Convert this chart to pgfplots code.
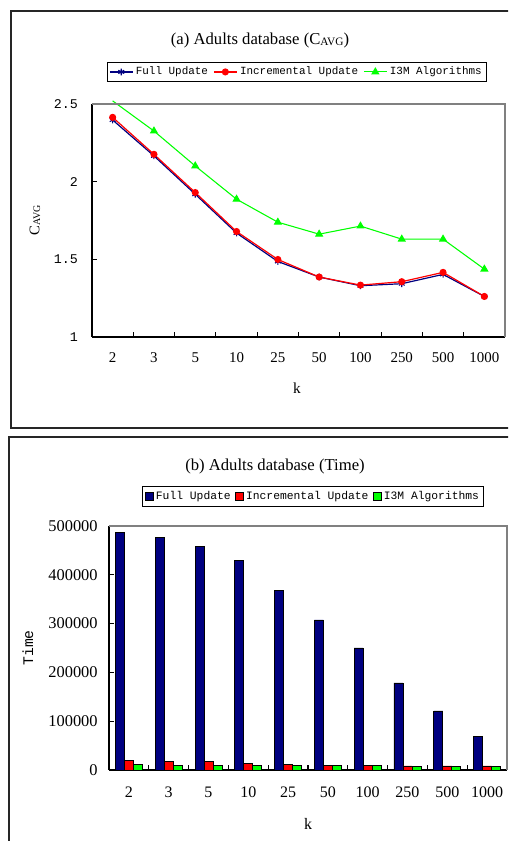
\documentclass[border=0pt]{standalone}
\usepackage{fontspec}
\setmainfont{Liberation Serif}
\setmonofont{Liberation Mono}
\usepackage{pgfplots}
\pgfplotsset{compat=1.18}
\definecolor{navyb}{RGB}{0,0,128}
\definecolor{redb}{RGB}{255,0,0}
\definecolor{greenb}{RGB}{0,255,0}
\definecolor{axgray}{RGB}{128,128,128}
\begin{document}
\begin{tikzpicture}
\useasboundingbox (0,0) rectangle (381pt,630.75pt);
\clip (0,0) rectangle (381pt,630.75pt);
% panel frames
\draw[line width=0.8pt, black!85] (8.25pt,622.5pt) rectangle (400pt,309.75pt);
\draw[line width=0.8pt, black!85] (6.75pt,303pt) rectangle (400pt,-10pt);
% titles and labels
\node[font=\fontsize{12.5}{14}\selectfont] at (195pt,600.5pt) {(a) Adults database (C\raisebox{-0.6pt}{\fontsize{8.5}{9}\selectfont AVG})};
\node[font=\fontsize{11}{13}\selectfont, rotate=90] at (26.25pt,465.75pt) {C\raisebox{-0.5pt}{\fontsize{7.5}{9}\selectfont AVG}};
\node[font=\fontsize{11.5}{13}\selectfont] at (222.75pt,339.75pt) {k};
\node[font=\fontsize{12.5}{14}\selectfont] at (206.25pt,281.25pt) {(b) Adults database (Time)};
\node[font=\ttfamily\fontsize{11}{13}\selectfont, rotate=90] at (21pt,144.75pt) {Time};
\node[font=\fontsize{12}{14}\selectfont] at (231pt,12.75pt) {k};

\begin{axis}[
  at={(69pt,378pt)}, anchor=south west, scale only axis,
  width=309.75pt, height=174.75pt,
  xmin=-0.5, xmax=9.5, ymin=1, ymax=2.5,
  clip=false,
  axis x line*=bottom, axis y line*=left,
  axis line style={-, line width=1pt, black},
  tick align=inside,
  tick style={black, line width=0.8pt},
  xtick={0.5,1.5,...,8.5}, xticklabels={},
  extra x ticks={0,...,9},
  extra x tick labels={2,3,5,10,25,50,100,250,500,1000},
  extra x tick style={major tick length=0pt, xticklabel style={font=\fontsize{11.2}{13}\selectfont, yshift=-8pt}},
  ytick={1,1.5,2,2.5}, yticklabels={1,1.5,2,2.5},
  major tick length=3.5pt,
  yticklabel style={font=\ttfamily\fontsize{10}{12}\selectfont, xshift=-7pt},
  legend columns=3,
  legend style={at={(0.496,1.094)}, anchor=south, draw=black, line width=0.8pt,
    font=\ttfamily\fontsize{8.2}{10}\selectfont, inner sep=1.5pt,
    /tikz/every even column/.append style={column sep=2pt}},
  legend cell align=left,
  after end axis/.code={\draw[axgray, line width=1.3pt] (rel axis cs:0,1) -- (rel axis cs:1,1) -- (rel axis cs:1,0);},
]
\addplot[navyb, line width=0.9pt, mark=asterisk, mark size=2.5pt, mark options={line width=0.8pt}] coordinates {
(0,2.397) (1,2.166) (2,1.919) (3,1.669) (4,1.486) (5,1.386) (6,1.330) (7,1.343) (8,1.403) (9,1.261)};
\addlegendentry{Full Update}
\addplot[redb, line width=0.9pt, mark=*, mark size=2.2pt] coordinates {
(0,2.414) (1,2.176) (2,1.930) (3,1.679) (4,1.499) (5,1.386) (6,1.334) (7,1.356) (8,1.416) (9,1.261)};
\addlegendentry{Incremental Update}
\addplot[greenb, line width=0.8pt, mark=triangle*, mark size=2.8pt, mark indices={2,...,10}, forget plot] coordinates {
(0,2.520) (1,2.326) (2,2.101) (3,1.887) (4,1.739) (5,1.662) (6,1.714) (7,1.630) (8,1.630) (9,1.437)};
\addlegendimage{greenb, line width=0.8pt, mark=triangle*, mark size=2.8pt}
\addlegendentry{I3M Algorithms}
\end{axis}

\begin{axis}[
  at={(81.75pt,53.25pt)}, anchor=south west, scale only axis,
  width=298.5pt, height=183pt,
  xmin=-0.5, xmax=9.5, ymin=0, ymax=500000,
  ybar=0pt, bar width=6.75pt,
  axis x line*=bottom, axis y line*=left,
  axis line style={-, line width=1pt, black},
  tick align=inside,
  tick style={black, line width=0.8pt},
  xtick={0.5,1.5,...,8.5}, xticklabels={},
  major tick length=4pt,
  extra x ticks={0,...,9},
  extra x tick labels={2,3,5,10,25,50,100,250,500,1000},
  extra x tick style={major tick length=0pt, xticklabel style={font=\fontsize{12}{14}\selectfont, yshift=-9pt}},
  ytick={0,100000,200000,300000,400000,500000},
  yticklabels={0,100000,200000,300000,400000,500000},
  scaled y ticks=false,
  yticklabel style={font=\fontsize{12.3}{14}\selectfont, xshift=-5pt},
  legend columns=3,
  legend style={at={(0.513,1.078)}, anchor=south, draw=black, line width=0.8pt,
    font=\ttfamily\fontsize{8.5}{10}\selectfont, inner sep=1.5pt,
    /tikz/every even column/.append style={column sep=1pt}},
  legend image code/.code={\draw[#1, line width=0.5pt] (0pt,-3pt) rectangle (6pt,3pt);},
  legend cell align=left,
  after end axis/.code={\draw[axgray, line width=1.3pt] (rel axis cs:0,1) -- (rel axis cs:1,1) -- (rel axis cs:1,0);},
]
\addplot[fill=navyb, draw=black, line width=0.5pt] coordinates {
(0,486000) (1,477000) (2,459000) (3,430000) (4,367500) (5,307500) (6,250000) (7,178300) (8,120900) (9,68300)};
\addlegendentry{Full Update}
\addplot[fill=redb, draw=black, line width=0.5pt] coordinates {
(0,19800) (1,17000) (2,17000) (3,13700) (4,11600) (5,9600) (6,9600) (7,8200) (8,8200) (9,8200)};
\addlegendentry{Incremental Update}
\addplot[fill=greenb, draw=black, line width=0.5pt] coordinates {
(0,11600) (1,9600) (2,9600) (3,9600) (4,9600) (5,9600) (6,9600) (7,7500) (8,7500) (9,7500)};
\addlegendentry{I3M Algorithms}
\end{axis}
\end{tikzpicture}
\end{document}
